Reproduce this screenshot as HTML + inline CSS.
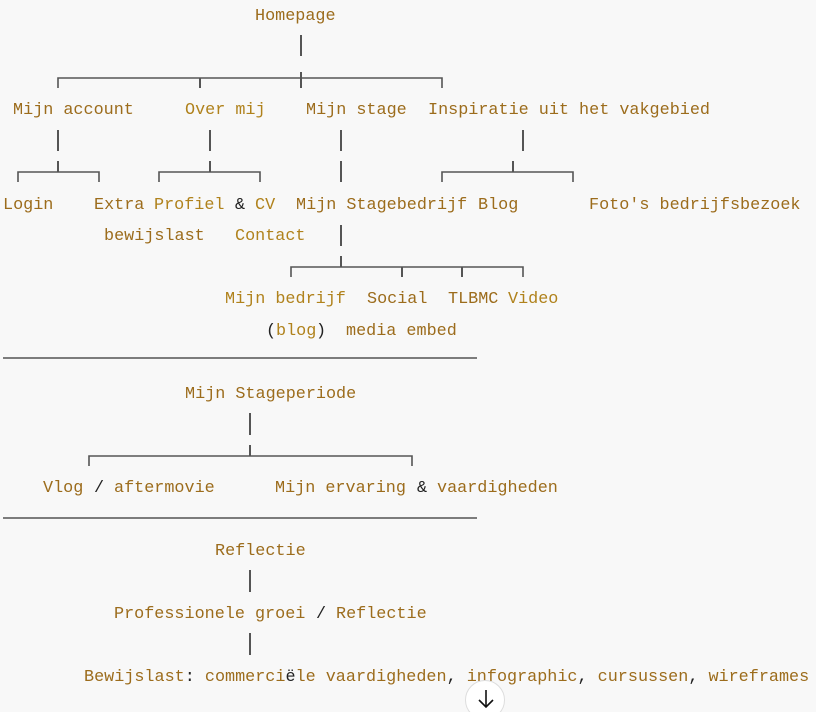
<!DOCTYPE html>
<html><head><meta charset="utf-8"><style>
html,body{margin:0;padding:0;background:#f8f8f8;width:816px;height:712px;overflow:hidden;position:relative}
.t{position:absolute;font-family:"Liberation Mono",monospace;font-size:16.8px;line-height:20px;height:20px;white-space:pre;color:#9c6c1c;margin-top:2px}
.l{color:#b0821c}
.k{color:#222}
svg{position:absolute;left:0;top:0}
</style></head><body>
<svg width="816" height="712" stroke="#555" stroke-width="2" fill="none">
<line x1="301" y1="35" x2="301" y2="56"/>
<polyline points="58,88 58,78 442,78 442,88" stroke-width="1.6"/>
<line x1="200" y1="78" x2="200" y2="88"/><line x1="301" y1="72" x2="301" y2="88"/>
<line x1="58" y1="130" x2="58" y2="151"/>
<line x1="58" y1="161" x2="58" y2="172"/>
<polyline points="18,182 18,172 99,172 99,182" stroke-width="1.6"/>
<line x1="210" y1="130" x2="210" y2="151"/><line x1="210" y1="161" x2="210" y2="172"/>
<polyline points="159,182 159,172 260,172 260,182" stroke-width="1.6"/>
<line x1="341" y1="130" x2="341" y2="151"/><line x1="341" y1="161" x2="341" y2="182"/>
<line x1="523" y1="130" x2="523" y2="151"/><line x1="513" y1="161" x2="513" y2="172"/>
<polyline points="442,182 442,172 573,172 573,182" stroke-width="1.6"/>
<line x1="341" y1="225" x2="341" y2="246"/><line x1="341" y1="256" x2="341" y2="267"/>
<polyline points="291,277 291,267 523,267 523,277" stroke-width="1.6"/>
<line x1="402" y1="267" x2="402" y2="277"/><line x1="462" y1="267" x2="462" y2="277"/>
<line x1="3" y1="358" x2="477" y2="358" stroke="#333" stroke-width="1.2"/>
<line x1="250" y1="413" x2="250" y2="435"/><line x1="250" y1="445" x2="250" y2="456"/>
<polyline points="89,466 89,456 412,456 412,466" stroke-width="1.6"/>
<line x1="3" y1="518" x2="477" y2="518" stroke="#333" stroke-width="1.2"/>
<line x1="250" y1="570" x2="250" y2="592"/><line x1="250" y1="633" x2="250" y2="655"/>
</svg>
<div class="t" style="left:255px;top:5px">Homepage</div>
<div class="t" style="left:13px;top:99px">Mijn account</div>
<div class="t l" style="left:185px;top:99px">Over mij</div>
<div class="t" style="left:306px;top:99px">Mijn stage</div>
<div class="t" style="left:428px;top:99px">Inspiratie uit het vakgebied</div>
<div class="t" style="left:3px;top:194px">Login</div>
<div class="t" style="left:94px;top:194px">Extra</div>
<div class="t l" style="left:154px;top:194px">Profiel</div>
<div class="t k" style="left:235px;top:194px">&amp;</div>
<div class="t l" style="left:255px;top:194px">CV</div>
<div class="t" style="left:296px;top:194px">Mijn Stagebedrijf</div>
<div class="t" style="left:478px;top:194px">Blog</div>
<div class="t" style="left:589px;top:194px">Foto's bedrijfsbezoek</div>
<div class="t" style="left:104px;top:225px">bewijslast</div>
<div class="t l" style="left:235px;top:225px">Contact</div>
<div class="t l" style="left:225px;top:288px">Mijn bedrijf</div>
<div class="t" style="left:367px;top:288px">Social</div>
<div class="t" style="left:448px;top:288px">TLBMC</div>
<div class="t l" style="left:508px;top:288px">Video</div>
<div class="t k" style="left:266px;top:320px">(</div>
<div class="t l" style="left:276px;top:320px">blog</div>
<div class="t k" style="left:316px;top:320px">)</div>
<div class="t" style="left:346px;top:320px">media embed</div>
<div class="t" style="left:185px;top:383px">Mijn Stageperiode</div>
<div class="t" style="left:43px;top:477px">Vlog</div>
<div class="t k" style="left:94px;top:477px">/</div>
<div class="t" style="left:114px;top:477px">aftermovie</div>
<div class="t" style="left:275px;top:477px">Mijn ervaring</div>
<div class="t k" style="left:417px;top:477px">&amp;</div>
<div class="t" style="left:437px;top:477px">vaardigheden</div>
<div class="t" style="left:215px;top:540px">Reflectie</div>
<div class="t" style="left:114px;top:603px">Professionele groei</div>
<div class="t k" style="left:316px;top:603px">/</div>
<div class="t" style="left:336px;top:603px">Reflectie</div>
<div class="t" style="left:84px;top:666px">Bewijslast<span class="k">:</span> commerci<span class="k">ë</span>le vaardigheden<span class="k">,</span> infographic<span class="k">,</span> cursussen<span class="k">,</span> wireframes</div>
<div style="position:absolute;left:465px;top:680px;width:40px;height:40px;border-radius:50%;background:#fff;border:1px solid #ddd;box-sizing:border-box"></div>
<svg width="816" height="712" stroke="#111" stroke-width="1.6" fill="none">
<line x1="486" y1="690" x2="486" y2="707"/><polyline points="479,700 486,707 493,700"/>
</svg>
</body></html>
